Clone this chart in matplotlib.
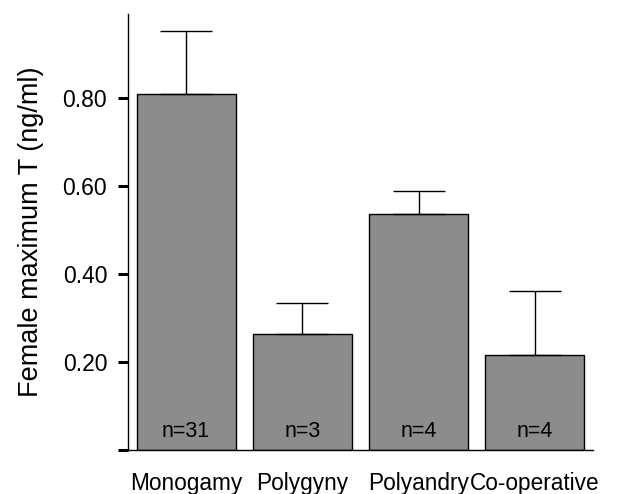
import matplotlib
matplotlib.use('Agg')
import matplotlib.pyplot as plt

# mating system vs female max testosterone
systems = ['Monogamy', 'Polygyny', 'Polyandry', 'Co-operative']
mean_t = [0.808, 0.264, 0.536, 0.216]
err_up = [0.144, 0.069, 0.051, 0.144]
n_labels = ['n=31', 'n=3', 'n=4', 'n=4']
ytick_vals = [0.0, 0.2, 0.4, 0.6, 0.8]
ytick_txt = ['', '0.20', '0.40', '0.60', '0.80']

plt.rcParams['font.family'] = ['Liberation Sans', 'DejaVu Sans']

fig = plt.figure(figsize=(6.18, 4.94), dpi=100)
ax = fig.add_axes([0.2071, 0.0891, 0.7524, 0.8826])

x = range(len(systems))
ax.bar(x, mean_t, width=0.85, color='#8c8c8c', edgecolor='black', linewidth=1.0,
       yerr=[[0] * len(err_up), err_up], error_kw=dict(ecolor='black', elinewidth=1.0,
       capsize=19, capthick=1.0))

for i in x:
    ax.text(i, 0.042, n_labels[i], ha='center', va='center', fontsize=15.5)

ax.set_xlim(-0.5, 3.5)
ax.set_ylim(0, 0.99)
ax.set_yticks(ytick_vals)
ax.set_yticklabels(ytick_txt, fontsize=16.5)
ax.set_xticks(list(x))
ax.set_xticklabels(systems, fontsize=16.3)
ax.tick_params(axis='x', length=0, pad=16)
ax.tick_params(axis='y', length=7, width=2.2, pad=8)
ax.spines['top'].set_visible(False)
ax.spines['right'].set_visible(False)
ax.spines['left'].set_linewidth(1.0)
ax.spines['bottom'].set_linewidth(1.0)
ax.set_ylabel('Female maximum T (ng/ml)', fontsize=19.5, labelpad=13)

plt.savefig('out.png', dpi=100)
